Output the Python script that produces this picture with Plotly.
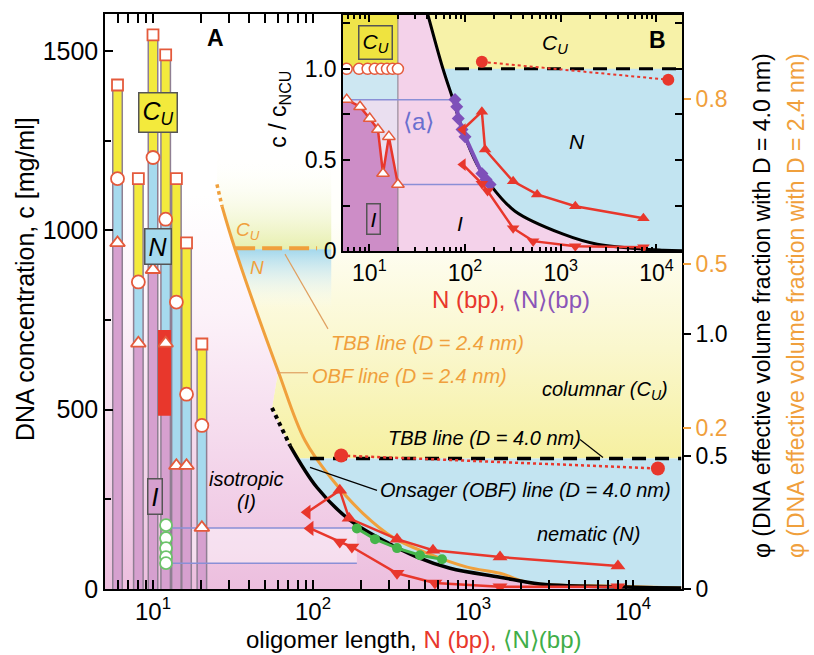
import plotly.graph_objects as go

# ---------------- DATA ----------------
# Panel A: short-oligomer phase bars
bar_N = [6.0, 8.1, 10.0, 12.0, 14.0, 16.2, 20.2]
bar_IN = [965, 685, 890, 685, 344, 344, 171]        # open triangles (I/N)
bar_NC = [1144, 856, 1203, 1031, 800, 543, 456]     # open circles (N/C_U)
bar_top = [1405, 1144, 1545, 1489, 1144, 965, 683]  # open squares (top)
redbar_N = [11.8]
redbar_lo = [483]
redbar_hi = [722]
gopen_N = [12.06, 12.06, 12.06, 12.06, 12.06]
gopen_c = [178, 142, 114, 89, 72]

upA_N = [92, 147, 168, 335, 562, 1475, 8050]
upA_c = [214, 275, 197, 139, 108, 89, 64]
dnA_N = [96, 147, 175, 335, 578, 1475, 8050]
dnA_c = [169, 131, 117, 44, 17, 6, 6]
grA_N = [188, 244, 335, 466, 640]
grA_c = [169, 139, 114, 94, 83]
circA_N = [150, 14300]
circA_c = [372, 336]

# Onsager (OBF) line, D = 4.0 nm
obf40_dot_N = [55.4, 63.0, 71.8]
obf40_dot_c = [505, 450, 400]
obf40_N = [71.8, 105.9, 170, 274, 447, 718, 1475, 2620, 10000, 20000]
obf40_c = [400, 283, 192, 136, 89, 58, 33, 14, 5, 3]
# OBF line, D = 2.4 nm
obf24_dot_N = [25.1, 27.0]
obf24_dot_c = [1128, 1067]
obf24_N = [27.0, 32.6, 60.5, 89.1, 133, 205, 316, 516, 919, 1475, 2270, 7940, 20000]
obf24_c = [1067, 947, 608, 414, 303, 211, 144, 100, 61, 44, 17, 8, 3]
# TBB lines
tbb40_N = [95.8, 20000]
tbb40_c = [364, 364]
tbb24_N = [32.6, 106]
tbb24_c = [950, 950]
# purple <N> mapping arrows (panel A)
arrA_N = [12.8, 188]
arrA_c = [170, 72]
arrA_head_N = [48.7, 48.7]

# right-hand phi axes
phi40_c = [0, 372, 711]
phi40_lbl = ["0", "0.5", "1.0"]
phi24_c = [450, 906, 1367]
phi24_lbl = ["0.2", "0.5", "0.8"]

# Panel B (inset)
triB_N = [5.8, 8.0, 10.1, 12.3, 13.9, 16.0, 19.9]
triB_v = [0.831, 0.792, 0.727, 0.667, 0.426, 0.628, 0.366]
circB_open_N = [5.8, 7.8, 9.6, 11.4, 13.3, 15.3, 17.5, 19.9]
circB_open_v = [1.0] * 8
diaB_N = [78.6, 82, 85, 93, 100, 150, 166, 183]
diaB_v = [0.831, 0.792, 0.727, 0.667, 0.628, 0.426, 0.393, 0.366]
upB_N = [95, 150, 162, 318, 567, 1420, 7310]
upB_v = [0.667, 0.765, 0.557, 0.383, 0.311, 0.246, 0.180]
dnB_N = [95, 150, 172, 318, 515, 1420, 7310]
dnB_v = [0.475, 0.37, 0.33, 0.126, 0.055, 0.027, 0.022]
circB_N = [150, 13300]
circB_v = [1.038, 0.94]
curveB_N = [41, 58.8, 74.9, 95.3, 133.6, 182.6, 333, 1062, 2408, 11800, 20000]
curveB_v = [1.295, 1.0, 0.831, 0.656, 0.475, 0.366, 0.219, 0.093, 0.038, 0.005, 0.002]
arrB_top = dict(N=[5.8, 78.6], v=0.83, heads_N=[7.7, 61.7])
arrB_bot = dict(N=[19.9, 183], v=0.366, heads_N=[24.7, 150])

# ---------------- STYLE ----------------
FONT = "Liberation Sans, Arial, Helvetica, sans-serif"
RED = "#e8372c"
ORANGE = "#f0a03c"
GREEN = "#45b54a"
PURPLE = "#7e50b9"
ARROWC = "#8a8fd6"
PINK_BAR = "#d6a0cf"
BLUE_BAR = "#a6daee"
YEL_BAR = "#f3ea3c"

W, H = 814, 655
L, R, T, B = 105, 682, 12, 589


def P(x, y):
    return (x - L) / (R - L), (B - y) / (B - T)


fig = go.Figure()


def poly(xs, ys, color=None, grad=None, xa="x", ya="y"):
    kw = dict(x=xs, y=ys, mode="lines", fill="toself", line=dict(width=0),
              hoverinfo="skip", showlegend=False, xaxis=xa, yaxis=ya)
    if grad is not None:
        kw["fillgradient"] = grad
    else:
        kw["fillcolor"] = color
    fig.add_trace(go.Scatter(**kw))


def line(xs, ys, color, width, dash=None, shape="linear", xa="x", ya="y"):
    fig.add_trace(go.Scatter(x=xs, y=ys, mode="lines",
                             line=dict(color=color, width=width, dash=dash, shape=shape),
                             hoverinfo="skip", showlegend=False, xaxis=xa, yaxis=ya))


def marks(xs, ys, symbol, size, fill, lcolor, lwidth=1.5, xa="x", ya="y"):
    fig.add_trace(go.Scatter(x=xs, y=ys, mode="markers",
                             marker=dict(symbol=symbol, size=size, color=fill,
                                         line=dict(color=lcolor, width=lwidth)),
                             hoverinfo="skip", showlegend=False, xaxis=xa, yaxis=ya))


PINK_GRAD = dict(type="vertical", start=0, stop=1100,
                 colorscale=[[0, "rgb(236,190,222)"], [0.3, "rgb(243,212,234)"],
                             [0.7, "rgb(252,242,249)"], [1, "rgb(255,255,255)"]])

# ---------------- PANEL A background regions ----------------
XMIN, XMAX = 5.0, 20000
pink_x = [XMIN, XMAX] + obf40_N[::-1] + obf40_dot_N[::-1] + [60.5, 32.6, 27.0, 25.1, 25.1, XMIN]
pink_y = [0, 0] + obf40_c[::-1] + obf40_dot_c[::-1] + [608, 947, 1067, 1128, 1603, 1603]
poly(pink_x, pink_y, grad=PINK_GRAD)
yel_x = [81, XMAX, XMAX, 25.1, 25.1, 27.0, 32.6, 60.5] + obf40_dot_N
yel_y = [364, 364, 1300, 1300, 1128, 1067, 947, 608] + obf40_dot_c
poly(yel_x, yel_y, grad=dict(type="vertical", start=364, stop=1250,
                             colorscale=[[0, "rgb(246,240,160)"], [0.35, "rgb(250,247,205)"],
                                         [0.75, "rgb(255,255,250)"], [1, "rgb(255,255,255)"]]))
poly([25.1, 27.0, 32.6, 60.5] + obf40_dot_N + [55.4, 25.1], [1128, 1067, 947, 608] + obf40_dot_c + [300, 300],
     grad=PINK_GRAD)
poly([25.1, 27.0, 32.6, 130, 130, 25.1], [1128, 1067, 947, 947, 1200, 1200],
     grad=dict(type="vertical", start=947, stop=1200,
               colorscale=[[0, "rgba(226,236,160,0.85)"], [1, "rgba(255,255,255,0)"]]))
blue_x = [81] + obf40_N[1:] + [XMAX]
blue_y = [364] + obf40_c[1:] + [364]
poly(blue_x, blue_y, color="#c3e4f1")
poly([32.6, 130, 130, 44], [947, 947, 780, 780],
     grad=dict(type="vertical", start=780, stop=947,
               colorscale=[[0, "rgba(255,255,255,0)"], [1, "rgba(150,210,236,0.85)"]]))
poly([arrA_N[0], arrA_N[1], arrA_N[1], arrA_N[0]], [arrA_c[0], arrA_c[0], arrA_c[1], arrA_c[1]],
     color="rgba(255,255,255,0.45)")

# ---------------- PANEL A bars ----------------
gx, gy, px_, py_, bx, by, yx, yy = [], [], [], [], [], [], [], []
for n, a, b, c in zip(bar_N, bar_IN, bar_NC, bar_top):
    gx += [n, n, None]; gy += [0, c, None]
    px_ += [n, n, None]; py_ += [0, a, None]
    bx += [n, n, None]; by += [a, b, None]
    yx += [n, n, None]; yy += [b, c, None]
line(gx, gy, "#8f7f92", 11)
line(px_, py_, PINK_BAR, 8)
line(bx, by, BLUE_BAR, 8)
line(yx, yy, YEL_BAR, 8)
line([redbar_N[0], redbar_N[0]], [redbar_lo[0], redbar_hi[0]], RED, 13)

for c in arrA_c:
    line(arrA_N, [c, c], ARROWC, 1.5)
marks(arrA_head_N, arrA_c, "triangle-right-open", 13, "rgba(0,0,0,0)", ARROWC, 1.5)

# ---------------- PANEL A lines ----------------
line(obf24_dot_N, obf24_dot_c, ORANGE, 3.5, dash="dot")
line(obf24_N, obf24_c, ORANGE, 3, shape="spline")
line(tbb24_N, tbb24_c, ORANGE, 4, dash="20px,7px")
line(obf40_dot_N, obf40_dot_c, "black", 4, dash="dot")
line(obf40_N, obf40_c, "black", 3.5, shape="spline")
line(tbb40_N, tbb40_c, "black", 3.5, dash="14px,9px")

fig.add_trace(go.Scatter(x=circA_N, y=circA_c, mode="lines+markers",
                         line=dict(color=RED, width=2.5, dash="dot"),
                         marker=dict(symbol="circle", size=14, color=RED),
                         hoverinfo="skip", showlegend=False))
fig.add_trace(go.Scatter(x=upA_N, y=upA_c, mode="lines+markers",
                         line=dict(color=RED, width=2.5),
                         marker=dict(symbol=["triangle-left"] + ["triangle-up"] * 6, size=13, color=RED),
                         hoverinfo="skip", showlegend=False))
fig.add_trace(go.Scatter(x=dnA_N, y=dnA_c, mode="lines+markers",
                         line=dict(color=RED, width=2.5),
                         marker=dict(symbol=["triangle-left"] + ["triangle-down"] * 6, size=13, color=RED),
                         hoverinfo="skip", showlegend=False))
fig.add_trace(go.Scatter(x=grA_N, y=grA_c, mode="lines+markers",
                         line=dict(color=GREEN, width=3),
                         marker=dict(symbol="circle", size=10, color=GREEN),
                         hoverinfo="skip", showlegend=False))

marks(bar_N, bar_top, "square", 11, "white", "#e45a3c", 1.8)
marks(bar_N, bar_NC, "circle", 13, "white", "#e45a3c", 1.8)
marks(bar_N, bar_IN, "triangle-up", 13, "white", "#e45a3c", 1.8)
marks(gopen_N, gopen_c, "circle", 12, "white", "#6cc46a", 1.8)

fig.add_trace(go.Scatter(x=[None], y=[None], yaxis="y3", showlegend=False, hoverinfo="skip"))
fig.add_trace(go.Scatter(x=[None], y=[None], yaxis="y4", showlegend=False, hoverinfo="skip"))

# ---------------- PANEL B (inset) ----------------
XA, YA = "x2", "y2"
BL, BR = 5.3, 20000
poly([BL, BR, BR, BL], [0, 0, 1.3, 1.3], color="#f7f2a8", xa=XA, ya=YA)
poly([20, BR] + curveB_N[::-1] + [20], [0, 0] + curveB_v[::-1] + [1.3], color="#f4d2ea", xa=XA, ya=YA)
poly(curveB_N[1:] + [BR], curveB_v[1:] + [1.0], color="#c2e4f1", xa=XA, ya=YA)
poly([BL, 19.9, 19.9, BL], [0, 0, 1.0, 1.0], color="#cd8dc7", xa=XA, ya=YA)
poly([BL, 19.9, 19.9, BL], [1.0, 1.0, 1.3, 1.3], color="#efe44a", xa=XA, ya=YA)
poly([BL, 19.9, 19.9, BL], [0.83, 0.83, 1.0, 1.0], color="#cde7f2", xa=XA, ya=YA)
poly(triB_N + [19.9], triB_v + [0.83], color="#eadff0", xa=XA, ya=YA)
line([19.9, 19.9], [0, 1.3], "#8a7a8c", 1, xa=XA, ya=YA)

line(curveB_N, curveB_v, "black", 3, shape="spline", xa=XA, ya=YA)
line([78.6, 20000], [1.0, 1.0], "black", 3, dash="14px,9px", xa=XA, ya=YA)

for arr in (arrB_top, arrB_bot):
    line(arr["N"], [arr["v"]] * 2, ARROWC, 1.5, xa=XA, ya=YA)
    marks(arr["heads_N"], [arr["v"]] * 2, ["triangle-left-open", "triangle-right-open"], 12,
          "rgba(0,0,0,0)", ARROWC, 1.5, xa=XA, ya=YA)

fig.add_trace(go.Scatter(x=diaB_N, y=diaB_v, mode="lines+markers", xaxis=XA, yaxis=YA,
                         line=dict(color=PURPLE, width=4),
                         marker=dict(symbol="diamond", size=10, color=PURPLE),
                         hoverinfo="skip", showlegend=False))
fig.add_trace(go.Scatter(x=circB_N, y=circB_v, mode="lines+markers", xaxis=XA, yaxis=YA,
                         line=dict(color=RED, width=2, dash="dot"),
                         marker=dict(symbol="circle", size=12, color=RED),
                         hoverinfo="skip", showlegend=False))
fig.add_trace(go.Scatter(x=upB_N, y=upB_v, mode="lines+markers", xaxis=XA, yaxis=YA,
                         line=dict(color=RED, width=2.5),
                         marker=dict(symbol=["triangle-left"] + ["triangle-up"] * 6, size=11, color=RED),
                         hoverinfo="skip", showlegend=False))
fig.add_trace(go.Scatter(x=dnB_N, y=dnB_v, mode="lines+markers", xaxis=XA, yaxis=YA,
                         line=dict(color=RED, width=2.5),
                         marker=dict(symbol=["triangle-left"] + ["triangle-down"] * 6, size=11, color=RED),
                         hoverinfo="skip", showlegend=False))
fig.add_trace(go.Scatter(x=triB_N, y=triB_v, mode="lines+markers", xaxis=XA, yaxis=YA,
                         line=dict(color=RED, width=2.5),
                         marker=dict(symbol="triangle-up", size=11, color="white",
                                     line=dict(color="#e45a3c", width=1.5)),
                         hoverinfo="skip", showlegend=False))
marks(circB_open_N, circB_open_v, "circle", 11, "white", "#e45a3c", 1.5, xa=XA, ya=YA)

# ---------------- AXES ----------------
minor_vals = [m * 10 ** k for k in range(0, 5) for m in range(2, 10)]
major_vals = [10, 100, 1000, 10000]
major_txt = ["10<sup>1</sup>", "10<sup>2</sup>", "10<sup>3</sup>", "10<sup>4</sup>"]

axis_common = dict(showgrid=False, zeroline=False, showline=True, linecolor="black", linewidth=1.5,
                   ticks="inside", tickcolor="black", tickwidth=1.5)

fig.update_layout(
    width=W, height=H, margin=dict(l=L, r=W - R, t=T, b=H - B),
    paper_bgcolor="white", plot_bgcolor="white", showlegend=False,
    font=dict(family=FONT, color="black"),
    xaxis=dict(type="log", range=[0.7, 4.306], domain=[0, 1], anchor="y",
               tickvals=major_vals, ticktext=major_txt, ticklen=9, mirror="allticks",
               tickfont=dict(size=24),
               minor=dict(tickvals=minor_vals, ticks="inside", ticklen=5, tickcolor="black", showgrid=False),
               **axis_common),
    yaxis=dict(range=[0, 1603], domain=[0, 1], anchor="x",
               tickvals=[0, 500, 1000, 1500], ticktext=["0", "500", "1000", "1500"],
               ticklen=8, mirror=True, tickfont=dict(size=25),
               minor=dict(tickvals=[250, 750, 1250], ticks="inside", ticklen=6, tickcolor="black",
                          showgrid=False),
               **axis_common),
    yaxis3=dict(range=[0, 1603], overlaying="y", side="right", anchor="x",
                tickvals=phi40_c, ticktext=phi40_lbl, ticks="outside", ticklen=8,
                tickcolor="black", tickwidth=1.5, showgrid=False, zeroline=False, showline=False,
                tickfont=dict(size=23, color="black")),
    yaxis4=dict(range=[0, 1603], overlaying="y", side="right", anchor="x",
                tickvals=phi24_c, ticktext=phi24_lbl, ticks="outside", ticklen=8,
                tickcolor=ORANGE, tickwidth=1.5, showgrid=False, zeroline=False, showline=False,
                tickfont=dict(size=23, color=ORANGE)),
    xaxis2=dict(type="log", range=[0.725, 4.267], domain=[(343 - L) / (R - L), 1], anchor="y2",
                tickvals=major_vals, ticktext=major_txt, ticklen=7, mirror="allticks",
                tickfont=dict(size=23),
                minor=dict(tickvals=minor_vals, ticks="inside", ticklen=4, tickcolor="black", showgrid=False),
                **axis_common),
    yaxis2=dict(range=[0, 1.295], domain=[(B - 250) / (B - T), (B - 13) / (B - T)], anchor="x2",
                tickvals=[0, 0.5, 1.0], ticktext=["0", "0.5", "1.0"],
                ticklen=7, mirror="allticks", tickfont=dict(size=23),
                minor=dict(tickvals=[0.25, 0.75, 1.25], ticks="inside", ticklen=7, tickcolor="black",
                           showgrid=False),
                **axis_common),
)

# ---------------- TEXT ----------------
anns = []


def ann(x, y, text, size=17, color="black", italic=False, bold=False, xanchor="center",
        angle=0, bg=None, border=None, pad=2):
    xp, yp = P(x, y)
    t = text
    if italic:
        t = "<i>" + t + "</i>"
    if bold:
        t = "<b>" + t + "</b>"
    d = dict(x=xp, y=yp, xref="paper", yref="paper", text=t, showarrow=False,
             xanchor=xanchor, yanchor="middle", textangle=angle,
             font=dict(size=size, color=color, family=FONT))
    if bg:
        d.update(bgcolor=bg, bordercolor=border or "#555", borderwidth=1.5, borderpad=pad)
    anns.append(d)


ann(215, 36, "A", 23, bold=True)
ann(657, 38, "B", 23, bold=True)
ann(158, 111, "C<sub>U</sub>", 25, italic=True, bg=YEL_BAR, border="#555", pad=3)
ann(158, 245, "N", 25, italic=True, bg=BLUE_BAR, border="#555", pad=3)
ann(155, 496, "I", 25, italic=True, bg=PINK_BAR, border="#555", pad=3)
ann(248, 230, "C<sub>U</sub>", 19, color=ORANGE, italic=True)
ann(257, 266, "N", 19, color=ORANGE, italic=True)
ann(329, 342, "TBB line (D = 2.4 nm)", 20, color=ORANGE, italic=True, xanchor="left")
ann(310, 375, "OBF line (D = 2.4 nm)", 20, color=ORANGE, italic=True, xanchor="left")
ann(605, 390, "columnar (C<sub>U</sub>)", 20, italic=True)
ann(386, 437, "TBB line (D = 4.0 nm)", 20, italic=True, xanchor="left")
ann(378, 490, "Onsager (OBF) line (D = 4.0 nm)", 20, italic=True, xanchor="left")
ann(246, 479, "isotropic", 20, italic=True)
ann(246, 502, "(I)", 20, italic=True)
ann(588, 534, "nematic (N)", 20, italic=True)
ann(375, 41, "C<sub>U</sub>", 21, italic=True, bg="#efe33f", border="#555", pad=3)
ann(373, 218, "I", 21, italic=True, bg="#cd8dc7", border="#555", pad=3)
ann(555, 42, "C<sub>U</sub>", 21, italic=True)
ann(577, 140, "N", 21, italic=True)
ann(460, 222, "I", 21, italic=True)
ann(418, 120, "\u27e8a\u27e9", 24, color="#6a6fcf")
ann(280, 108, "c / c<sub>NCU</sub>", 23, angle=-90)
ann(511, 298, "<span style='color:#e8372c'>N (bp),</span> <span style='color:#8a55b8'>\u27e8N\u27e9(bp)</span>", 24)
ann(25, 278, "DNA concentration, c [mg/ml]", 25, angle=-90)
ann(413, 640, "oligomer length, <span style='color:#e8372c'>N (bp),</span> "
    "<span style='color:#3fae49'>\u27e8N\u27e9(bp)</span>", 24)
ann(762, 305, "\u03c6 (DNA effective volume fraction with D = 4.0 nm)", 23, angle=-90)
ann(796, 305, "\u03c6 (DNA effective volume fraction with D = 2.4 nm)", 23, color=ORANGE, angle=-90)
fig.update_layout(annotations=anns)

shapes = []


def leader(x0, y0, x1, y1, color, width=1.2):
    a0, b0 = P(x0, y0)
    a1, b1 = P(x1, y1)
    shapes.append(dict(type="line", xref="paper", yref="paper", x0=a0, y0=b0, x1=a1, y1=b1,
                       line=dict(color=color, width=width)))


leader(285, 253, 328, 328, "#e0a060")
leader(277, 372, 308, 372, "#e0a060")
leader(580, 439, 603, 457, "black")
leader(310, 467, 377, 490, "black")
fig.update_layout(shapes=shapes)

fig.write_html("out.html", config={"displayModeBar": False},
               post_script="document.body.style.margin='0';document.body.style.padding='0';")
